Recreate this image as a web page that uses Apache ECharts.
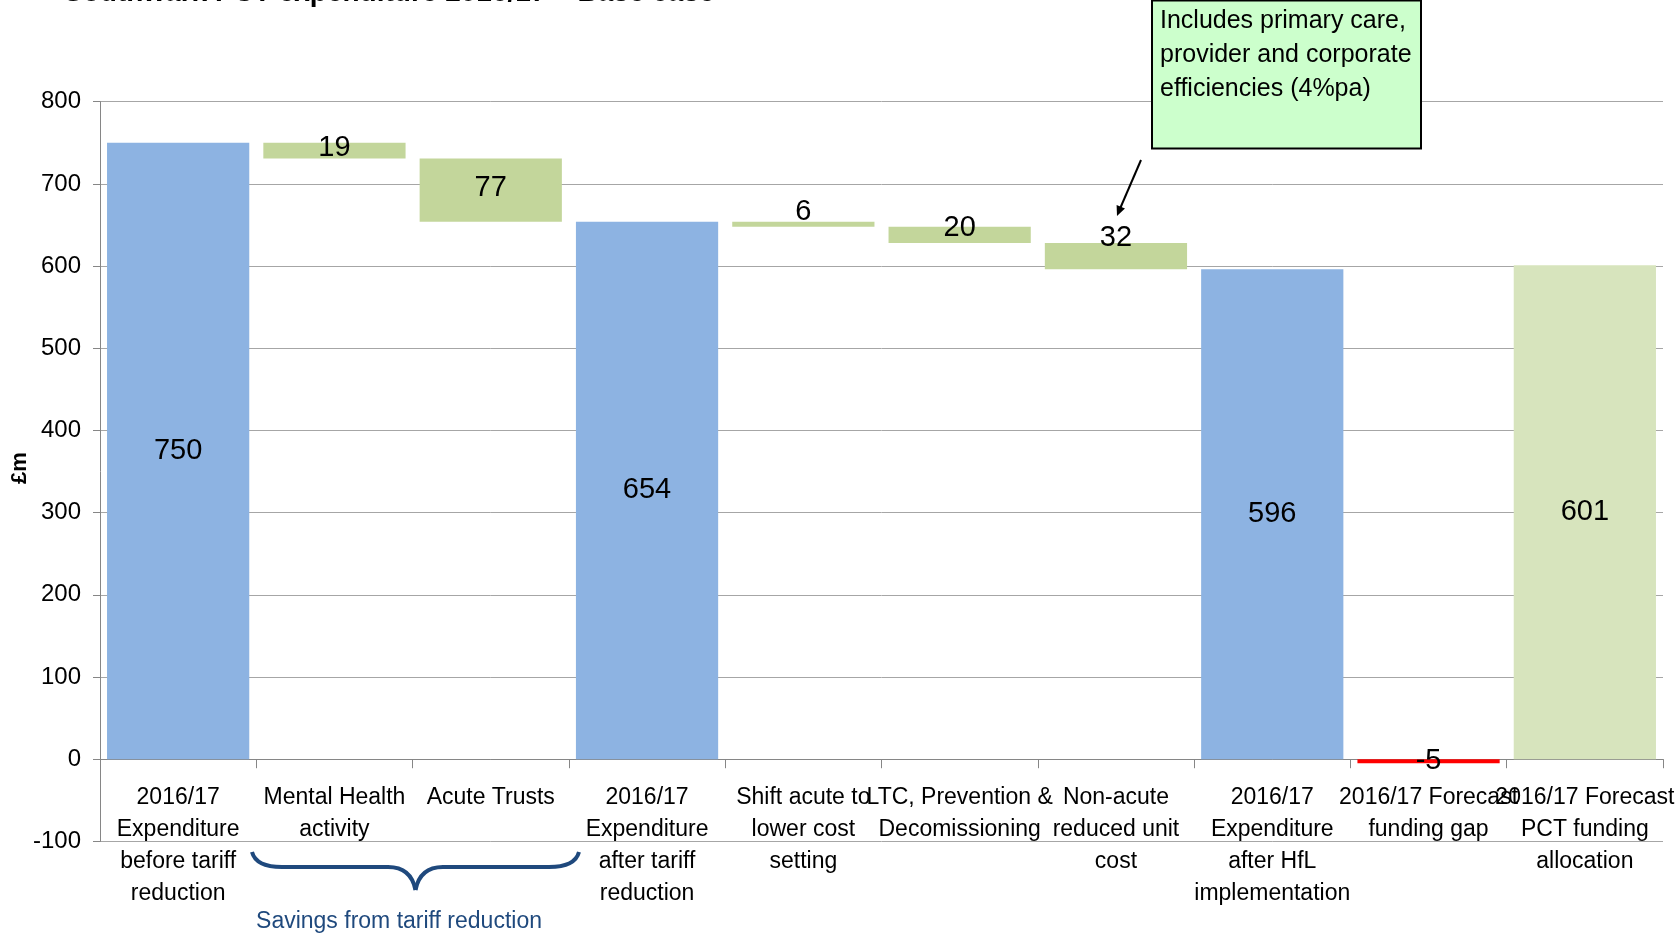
<!DOCTYPE html>
<html>
<head>
<meta charset="utf-8">
<script src="https://cdn.jsdelivr.net/npm/echarts@6/dist/echarts.min.js"></script>
<style>
html,body{margin:0;padding:0;background:#fff;}
#chart{width:1679px;height:936px;}
</style>
</head>
<body>
<div id="chart"></div>
<script>
// ---- data ----
const categories = [
  "2016/17\nExpenditure\nbefore tariff\nreduction",
  "Mental Health\nactivity",
  "Acute Trusts",
  "2016/17\nExpenditure\nafter tariff\nreduction",
  "Shift acute to\nlower cost\nsetting",
  "LTC, Prevention &\nDecomissioning",
  "Non-acute\nreduced unit\ncost",
  "2016/17\nExpenditure\nafter HfL\nimplementation",
  "2016/17 Forecast\nfunding gap",
  "2016/17 Forecast\nPCT funding\nallocation"
];
const values = [750, 19, 77, 654, 6, 20, 32, 596, -5, 601];
const kinds = ["total","saving","saving","total","saving","saving","saving","total","gap","funding"];
const yTicks = { min: -100, max: 800, interval: 100 };
const titleText = "Southwark PCT expenditure 2016/17 \u2013 Base case";
const yAxisName = "\u00a3m";
const noteLines = ["Includes primary care,", "provider and corporate", "efficiencies (4%pa)"];
const braceText = "Savings from tariff reduction";

// ---- styles ----
const colors = { total: "#8DB3E2", saving: "#C3D69B", gap: "#FF0000", funding: "#D7E4BD" };
const labelDy = [0, -3, -2, 0, -12, -7, -18, 0, 0, 0];
const FONT = "'Liberation Sans', Arial, sans-serif";

// invisible base of each floating bar, from the running total
const bases = [];
let running = 0;
values.forEach((v, i) => {
  if (kinds[i] === "saving") { running -= v; bases.push(running); }
  else if (kinds[i] === "gap") { bases.push(0); }
  else { running = v; bases.push(0); }
});

const chart = echarts.init(document.getElementById("chart"), null, { renderer: "canvas" });

const braceStyle = { stroke: "#1F497D", lineWidth: 4, fill: null };
const braceParts = [
  { type: "bezierCurve", shape: { x1: 252, y1: 852, cpx1: 256, cpy1: 867, x2: 282, y2: 867 } },
  { type: "line", shape: { x1: 281, y1: 867, x2: 389, y2: 867 } },
  { type: "bezierCurve", shape: { x1: 388, y1: 867, cpx1: 411, cpy1: 867, x2: 415.5, y2: 890 } },
  { type: "bezierCurve", shape: { x1: 415.5, y1: 890, cpx1: 420, cpy1: 867, x2: 443, y2: 867 } },
  { type: "line", shape: { x1: 442, y1: 867, x2: 550, y2: 867 } },
  { type: "bezierCurve", shape: { x1: 549, y1: 867, cpx1: 575, cpy1: 867, x2: 579, y2: 852 } }
].map(p => Object.assign(p, { z: 100, style: braceStyle }));

const option = {
  animation: false,
  backgroundColor: "#ffffff",
  textStyle: { fontFamily: FONT },
  grid: { left: 100, right: 16, top: 101.7, bottom: 94.6, containLabel: false, outerBoundsMode: "none" },
  xAxis: {
    type: "category",
    data: categories,
    axisLine: { onZero: true, lineStyle: { color: "#868686", width: 1 } },
    axisTick: { show: true, length: 9, lineStyle: { color: "#868686" } },
    axisLabel: { interval: 0, color: "#000", fontSize: 23, lineHeight: 32, margin: -60, fontFamily: FONT, hideOverlap: false },
    splitLine: { show: false }
  },
  yAxis: {
    type: "value",
    min: yTicks.min, max: yTicks.max, interval: yTicks.interval,
    axisLine: { show: true, lineStyle: { color: "#868686" } },
    axisTick: { show: true, length: 7, lineStyle: { color: "#868686" } },
    axisLabel: { color: "#000", fontSize: 24, margin: 19, fontFamily: FONT },
    splitLine: { show: true, lineStyle: { color: "#A6A6A6", width: 1 } }
  },
  series: [
    {
      type: "bar", name: "base", stack: "w", silent: true,
      itemStyle: { color: "rgba(0,0,0,0)" },
      data: bases,
      barCategoryGap: "9%"
    },
    {
      type: "bar", name: "value", stack: "w",
      barCategoryGap: "9%",
      label: { show: true, position: "inside", color: "#000", fontSize: 29, fontFamily: FONT },
      data: values.map((v, i) => ({
        value: v,
        itemStyle: { color: colors[kinds[i]] },
        label: { offset: [0, labelDy[i]] }
      }))
    }
  ],
  graphic: [
    {
      type: "text", x: 64, y: -7, z: 100,
      style: { text: titleText, font: "bold 28px " + FONT, fill: "#000", verticalAlign: "middle" }
    },
    {
      type: "text", x: 20, y: 468, rotation: Math.PI / 2, z: 100,
      style: { text: yAxisName, font: "bold 22px " + FONT, fill: "#000", align: "center", verticalAlign: "middle" }
    },
    {
      type: "rect", z: 100,
      shape: { x: 1152, y: 0.5, width: 269, height: 148 },
      style: { fill: "#CCFFCC", stroke: "#000", lineWidth: 2 }
    },
    {
      type: "text", z: 101, x: 1160, y: 4,
      style: { text: noteLines.join("\n"), font: "25px " + FONT, fill: "#000", lineHeight: 34, verticalAlign: "top" }
    },
    {
      type: "line", z: 100,
      shape: { x1: 1141, y1: 160, x2: 1119, y2: 211 },
      style: { stroke: "#000", lineWidth: 2 }
    },
    {
      type: "polygon", z: 100,
      shape: { points: [[1117, 216], [1125, 208.6], [1116.6, 205]] },
      style: { fill: "#000" }
    }
  ].concat(braceParts).concat([
    {
      type: "text", z: 100, x: 399, y: 922,
      style: { text: braceText, font: "23px " + FONT, fill: "#1F497D", align: "center", verticalAlign: "middle" }
    }
  ])
};
chart.setOption(option);
</script>
</body>
</html>
